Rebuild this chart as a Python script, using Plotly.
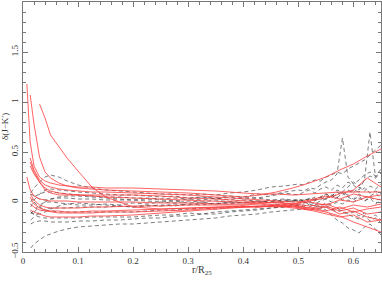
import plotly.graph_objects as go

# radius grid (r / R25) shared by the red profiles
r_red = [0.007, 0.013, 0.02, 0.03, 0.04, 0.05, 0.065, 0.08, 0.1, 0.125, 0.15, 0.2, 0.25,
         0.3, 0.35, 0.4, 0.43, 0.46, 0.49, 0.52, 0.55, 0.575, 0.6, 0.625, 0.65]

red_1 = [1.18, 0.60, 0.36, 0.25, 0.21, 0.19, 0.17, 0.16, 0.15, 0.15, 0.14, 0.14, 0.13,
         0.12, 0.11, 0.09, 0.08, 0.08, 0.07, 0.08, 0.09, 0.10, 0.10, 0.10, 0.10]
red_2 = [None, 1.07, 0.78, 0.45, 0.30, 0.24, 0.19, 0.16, 0.14, 0.13, 0.12, 0.11, 0.10,
         0.09, 0.07, 0.05, 0.07, 0.10, 0.14, 0.19, 0.25, 0.32, 0.38, 0.46, 0.53]
red_3 = [None, None, None, 0.98, 0.84, 0.67, 0.55, 0.44, 0.31, 0.15, 0.05, -0.05, -0.07,
         -0.06, -0.05, -0.04, -0.05, -0.04, -0.06, -0.08, -0.05, -0.12, -0.09, -0.15, -0.18]
red_4 = [None, 0.44, 0.32, 0.22, 0.17, 0.15, 0.13, 0.12, 0.11, 0.10, 0.10, 0.09, 0.08,
         0.07, 0.05, 0.03, 0.02, 0.01, 0.0, 0.01, 0.04, 0.08, 0.12, 0.24, 0.15]
red_5 = [None, 0.36, 0.28, 0.20, 0.12, 0.09, 0.07, 0.07, 0.07, 0.07, 0.07, 0.07, 0.06,
         0.04, 0.03, 0.01, 0.0, -0.01, -0.02, 0.0, -0.03, 0.02, 0.0, 0.05, 0.02]
red_6 = [0.25, 0.12, 0.06, 0.03, 0.02, 0.01, 0.01, 0.01, 0.0, 0.0, 0.0, 0.0, -0.01,
         -0.01, -0.02, -0.02, -0.01, -0.03, -0.02, -0.04, -0.02, -0.07, -0.03, -0.05, -0.02]
red_7 = [None, 0.08, 0.02, -0.03, -0.05, -0.06, -0.06, -0.06, -0.06, -0.05, -0.05, -0.04, -0.04,
         -0.03, -0.03, -0.03, -0.02, -0.04, -0.03, -0.06, -0.09, -0.05, -0.10, -0.07, -0.05]
red_8 = [None, 0.05, -0.02, -0.06, -0.08, -0.09, -0.09, -0.10, -0.10, -0.09, -0.09, -0.08, -0.07,
         -0.06, -0.05, -0.04, -0.04, -0.05, -0.04, -0.08, -0.12, -0.15, -0.13, -0.20, -0.18]
red_9 = [None, -0.08, -0.10, -0.12, -0.14, -0.15, -0.15, -0.15, -0.15, -0.14, -0.14, -0.13, -0.11,
         -0.09, -0.07, -0.05, -0.04, -0.04, -0.05, -0.07, -0.10, -0.14, -0.20, -0.25, -0.30]
red_10 = [None, 0.40, 0.30, 0.20, 0.14, 0.11, 0.09, 0.08, 0.07, 0.06, 0.05, 0.04, 0.03,
          0.02, 0.01, 0.0, -0.01, 0.0, -0.02, 0.02, 0.06, 0.03, 0.08, 0.05, 0.07]
red_11 = [None, -0.02, -0.05, -0.08, -0.09, -0.10, -0.11, -0.11, -0.11, -0.11, -0.10, -0.10, -0.09,
          -0.08, -0.06, -0.05, -0.05, -0.03, -0.04, -0.06, -0.04, -0.09, -0.06, -0.12, -0.10]

# radius grid for the dashed profiles
r_dash = [0.008, 0.014, 0.02, 0.03, 0.04, 0.05, 0.065, 0.08, 0.1, 0.125, 0.15, 0.175, 0.2,
          0.225, 0.25, 0.275, 0.3, 0.325, 0.35, 0.375, 0.4, 0.425, 0.45, 0.475, 0.5, 0.51,
          0.52, 0.53, 0.54, 0.55, 0.56, 0.57, 0.58, 0.59, 0.6, 0.61, 0.62, 0.63, 0.64, 0.65]

dash_1 = [None, 0.09, 0.14, 0.20, 0.25, 0.27, 0.25, 0.21, 0.17, 0.14, 0.12, 0.11, 0.10,
          0.09, 0.08, 0.08, 0.07, 0.08, 0.07, 0.09, 0.10, 0.12, 0.15, 0.16, 0.18, 0.17,
          0.20, 0.22, 0.21, 0.25, 0.27, 0.30, 0.28, 0.33, 0.36, 0.39, 0.42, 0.47, 0.52, 0.57]
dash_2 = [None, 0.0, 0.05, 0.08, 0.10, 0.10, 0.09, 0.08, 0.07, 0.06, 0.05, 0.05, 0.04,
          0.04, 0.03, 0.04, 0.03, 0.05, 0.04, 0.06, 0.05, 0.08, 0.07, 0.10, 0.12, 0.11,
          0.14, 0.13, 0.17, 0.20, 0.22, 0.28, 0.64, 0.25, 0.18, 0.22, 0.27, 0.30, 0.26, 0.33]
dash_3 = [None, None, -0.10, -0.05, 0.0, 0.03, 0.05, 0.06, 0.06, 0.05, 0.04, 0.03, 0.02,
          0.03, 0.02, 0.01, 0.03, 0.02, 0.04, 0.02, 0.05, 0.04, 0.06, 0.09, 0.07, 0.10,
          0.12, 0.09, 0.13, 0.15, 0.12, 0.17, 0.14, 0.20, 0.17, 0.12, 0.22, 0.70, 0.25, 0.30]
dash_4 = [None, -0.12, -0.08, -0.03, 0.0, 0.0, -0.01, -0.02, -0.03, -0.03, -0.02, -0.03, -0.01,
          -0.02, 0.0, -0.01, 0.01, 0.0, 0.02, 0.0, 0.02, 0.01, 0.0, 0.02, -0.01, 0.0,
          -0.02, -0.04, -0.05, -0.08, -0.13, -0.18, -0.21, -0.26, -0.28, -0.31, -0.25, -0.22, -0.27, -0.33]
dash_5 = [None, -0.18, -0.15, -0.10, -0.07, -0.06, -0.06, -0.06, -0.05, -0.05, -0.05, -0.04, -0.05,
          -0.03, -0.04, -0.02, -0.03, -0.01, -0.02, 0.0, -0.01, 0.01, 0.0, 0.02, 0.01, 0.03,
          0.02, 0.05, 0.04, 0.08, 0.06, 0.10, 0.07, 0.12, 0.09, 0.15, 0.11, 0.16, 0.13, 0.18]
dash_6 = [None, -0.05, 0.02, 0.08, 0.12, 0.13, 0.12, 0.11, 0.10, 0.09, 0.08, 0.07, 0.07,
          0.06, 0.05, 0.06, 0.04, 0.05, 0.03, 0.05, 0.03, 0.04, 0.02, 0.03, 0.01, 0.02,
          0.0, 0.03, 0.02, 0.06, 0.04, 0.08, 0.10, 0.07, 0.12, 0.10, 0.14, 0.09, 0.11, 0.08]
dash_7 = [None, -0.46, -0.42, -0.38, -0.34, -0.32, -0.29, -0.27, -0.25, -0.24, -0.23, -0.22, -0.22,
          -0.21, -0.20, -0.19, -0.18, -0.17, -0.16, -0.14, -0.13, -0.12, -0.10, -0.09, -0.08, -0.07,
          -0.08, -0.06, -0.07, -0.05, -0.08, -0.06, -0.10, -0.12, -0.15, -0.17, -0.14, -0.19, -0.16, -0.21]
dash_8 = [None, -0.22, -0.20, -0.19, -0.19, -0.20, -0.20, -0.20, -0.19, -0.19, -0.18, -0.18, -0.17,
          -0.16, -0.16, -0.14, -0.14, -0.12, -0.12, -0.10, -0.09, -0.08, -0.06, -0.05, -0.04, -0.03,
          -0.05, -0.02, -0.04, -0.01, -0.03, 0.0, -0.02, 0.02, 0.0, 0.04, 0.01, 0.05, 0.02, 0.03]
dash_9 = [None, -0.10, -0.13, -0.15, -0.16, -0.16, -0.16, -0.16, -0.16, -0.15, -0.15, -0.15, -0.15,
          -0.14, -0.13, -0.13, -0.11, -0.12, -0.10, -0.09, -0.08, -0.07, -0.06, -0.05, -0.03, -0.05,
          -0.02, -0.04, -0.06, -0.03, -0.07, -0.10, -0.08, -0.12, -0.10, -0.14, -0.11, -0.16, -0.13, -0.18]
dash_10 = [None, None, 0.0, -0.05, -0.08, -0.09, -0.10, -0.10, -0.10, -0.10, -0.10, -0.10, -0.10,
           -0.09, -0.08, -0.08, -0.07, -0.06, -0.07, -0.05, -0.04, -0.05, -0.03, -0.02, -0.03, -0.01,
           0.0, -0.02, 0.01, 0.03, 0.0, 0.05, 0.02, 0.06, 0.03, 0.08, 0.05, 0.06, 0.09, 0.04]
dash_11 = [None, -0.10, -0.12, -0.12, -0.10, -0.07, -0.04, -0.02, -0.01, -0.02, -0.03, -0.04, -0.05,
           -0.04, -0.03, -0.04, -0.02, -0.03, -0.01, -0.02, 0.0, -0.01, 0.02, 0.0, 0.03, 0.01,
           0.04, 0.02, 0.05, 0.03, 0.07, 0.04, 0.09, 0.05, 0.02, 0.06, 0.01, 0.04, -0.02, 0.02]
dash_12 = [None, 0.08, 0.06, 0.03, 0.02, 0.03, 0.04, 0.04, 0.03, 0.03, 0.02, 0.02, 0.02,
           0.01, 0.0, 0.01, -0.01, 0.0, -0.02, 0.0, -0.01, 0.01, -0.01, 0.0, 0.02, 0.0,
           0.03, 0.01, 0.05, 0.08, 0.05, 0.12, 0.10, 0.15, 0.20, 0.16, 0.22, 0.26, 0.24, 0.29]

red_profiles = [red_1, red_2, red_3, red_4, red_5, red_6, red_7, red_8, red_9, red_10, red_11]
dash_profiles = [dash_1, dash_2, dash_3, dash_4, dash_5, dash_6, dash_7, dash_8, dash_9,
                 dash_10, dash_11, dash_12]

fig = go.Figure()

for prof in dash_profiles:
    fig.add_trace(go.Scatter(x=r_dash, y=prof, mode="lines", connectgaps=False,
                             line=dict(color="rgba(50,50,50,0.8)", width=0.8, dash="4px,3px"),
                             showlegend=False, hoverinfo="skip"))

for prof in red_profiles:
    fig.add_trace(go.Scatter(x=r_red, y=prof, mode="lines", connectgaps=False,
                             line=dict(color="rgba(255,60,60,0.8)", width=1),
                             showlegend=False, hoverinfo="skip"))

serif = "Liberation Serif"
axis_common = dict(
    showgrid=False, zeroline=False, showline=True, linecolor="#777", linewidth=1,
    mirror="ticks", ticks="inside", ticklen=5, tickcolor="#777", tickwidth=1,
    automargin=False,
    tickfont=dict(family=serif, size=9, color="#333"),
)

fig.update_layout(
    width=382, height=281,
    margin=dict(l=23, r=1, t=2, b=29),
    paper_bgcolor="white", plot_bgcolor="white",
    xaxis=dict(range=[0, 0.65], dtick=0.1, tick0=0,
               minor=dict(dtick=0.02, ticks="inside", ticklen=3, tickcolor="#777"),
               **axis_common),
    yaxis=dict(range=[-0.5, 2], dtick=0.5, tick0=0, tickangle=-90,
               minor=dict(dtick=0.1, ticks="inside", ticklen=3, tickcolor="#777"),
               **axis_common),
)

# axis titles placed as annotations for exact positioning
fig.add_annotation(text="r/R<sub>25</sub>", xref="paper", yref="paper", x=0.5, y=0,
                   yshift=-10, showarrow=False, yanchor="top",
                   font=dict(family=serif, size=10, color="#333"))
fig.add_annotation(text="δ(J−K′)", xref="paper", yref="paper", x=0, y=0.5,
                   xshift=-18, textangle=-90, showarrow=False, xanchor="center",
                   font=dict(family=serif, size=9, color="#333"))

# drop the default page margin so the figure sits at the window's corner
fig.write_html("out.html", config={"displayModeBar": False},
               post_script="document.body.style.margin='0';")
